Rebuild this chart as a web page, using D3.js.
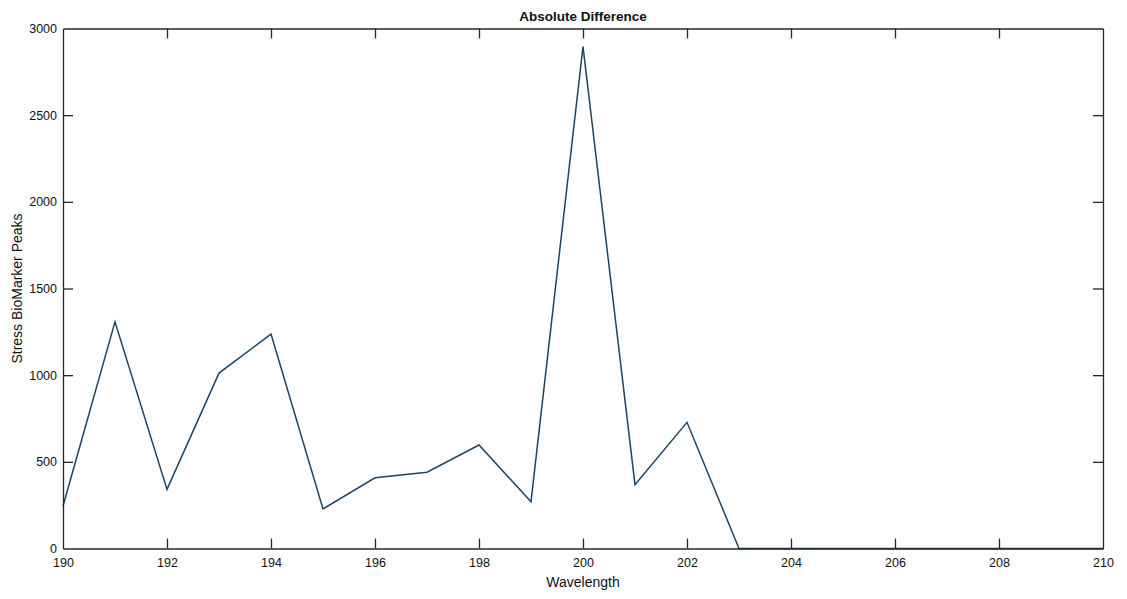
<!DOCTYPE html>
<html>
<head>
<meta charset="utf-8">
<script src="https://cdn.jsdelivr.net/npm/d3@7"></script>
<style>
  html, body { margin: 0; padding: 0; background: #fff; }
  svg { display: block; font-family: "Liberation Sans", Arial, Helvetica, sans-serif; }
</style>
</head>
<body>
<svg id="chart" width="1127" height="599"></svg>
<script>
const wavelengths = [190,191,192,193,194,195,196,197,198,199,200,201,202,203,204,205,206,207,208,209,210];
const peaks = [245,1308,341,1012,1237,228,408,440,597,270,2895,368,728,0,0,0,0,0,0,0,0];
const xTicks = [190,192,194,196,198,200,202,204,206,208,210];
const yTicks = [0,500,1000,1500,2000,2500,3000];
const title = "Absolute Difference";
const xLabel = "Wavelength";
const yLabel = "Stress BioMarker Peaks";

(function () {
const svg = d3.select("#chart");
const m = {left: 63, right: 1103, top: 28.5, bottom: 548.5};
const x = d3.scaleLinear().domain([190, 210]).range([m.left, m.right]);
const y = d3.scaleLinear().domain([0, 3000]).range([m.bottom, m.top]);
const axisColor = "#262626";
const tickLen = 10;
const fmt = d3.format("d");

const line = d3.line().x((d, i) => x(wavelengths[i])).y(d => y(d));
svg.append("path")
  .datum(peaks)
  .attr("d", line)
  .attr("fill", "none")
  .attr("stroke", "#1d4466")
  .attr("stroke-width", 1.5)
  .attr("stroke-linejoin", "miter");

const gBottom = svg.append("g").attr("transform", `translate(0,${m.bottom})`)
  .call(d3.axisBottom(x).tickValues(xTicks).tickFormat(fmt).tickSizeInner(-tickLen).tickSizeOuter(0).tickPadding(10));
const gTop = svg.append("g").attr("transform", `translate(0,${m.top})`)
  .call(d3.axisTop(x).tickValues(xTicks).tickSizeInner(-tickLen).tickSizeOuter(0).tickFormat(""));
const gLeft = svg.append("g").attr("transform", `translate(${m.left},0)`)
  .call(d3.axisLeft(y).tickValues(yTicks).tickFormat(fmt).tickSizeInner(-tickLen).tickSizeOuter(0).tickPadding(6));
const gRight = svg.append("g").attr("transform", `translate(${m.right},0)`)
  .call(d3.axisRight(y).tickValues(yTicks).tickSizeInner(-tickLen).tickSizeOuter(0).tickFormat(""));

[gBottom, gTop, gLeft, gRight].forEach(g => {
  g.selectAll("path.domain").attr("stroke", axisColor).attr("stroke-width", 1.3);
  g.selectAll(".tick line").attr("stroke", axisColor).attr("stroke-width", 1.3);
  g.selectAll(".tick text").attr("fill", "#111").attr("font-size", 12.5)
    .attr("font-family", "\"Liberation Sans\", Arial, sans-serif");
});
gBottom.selectAll(".tick line").filter(d => d === 190 || d === 210).remove();
gTop.selectAll(".tick line").filter(d => d === 190 || d === 210).remove();
gLeft.selectAll(".tick line").filter(d => d === 0 || d === 3000).remove();
gRight.selectAll(".tick line").filter(d => d === 0 || d === 3000).remove();

svg.append("text").attr("x", (m.left + m.right) / 2).attr("y", 21)
  .attr("text-anchor", "middle").attr("font-size", 13.5).attr("font-weight", "bold")
  .attr("fill", "#111").text(title);
svg.append("text").attr("x", (m.left + m.right) / 2).attr("y", 587)
  .attr("text-anchor", "middle").attr("font-size", 14).attr("fill", "#111").text(xLabel);
svg.append("text").attr("transform", `translate(22,${(m.top + m.bottom) / 2}) rotate(-90)`)
  .attr("text-anchor", "middle").attr("font-size", 14).attr("fill", "#111").text(yLabel);
})();
</script>
</body>
</html>
